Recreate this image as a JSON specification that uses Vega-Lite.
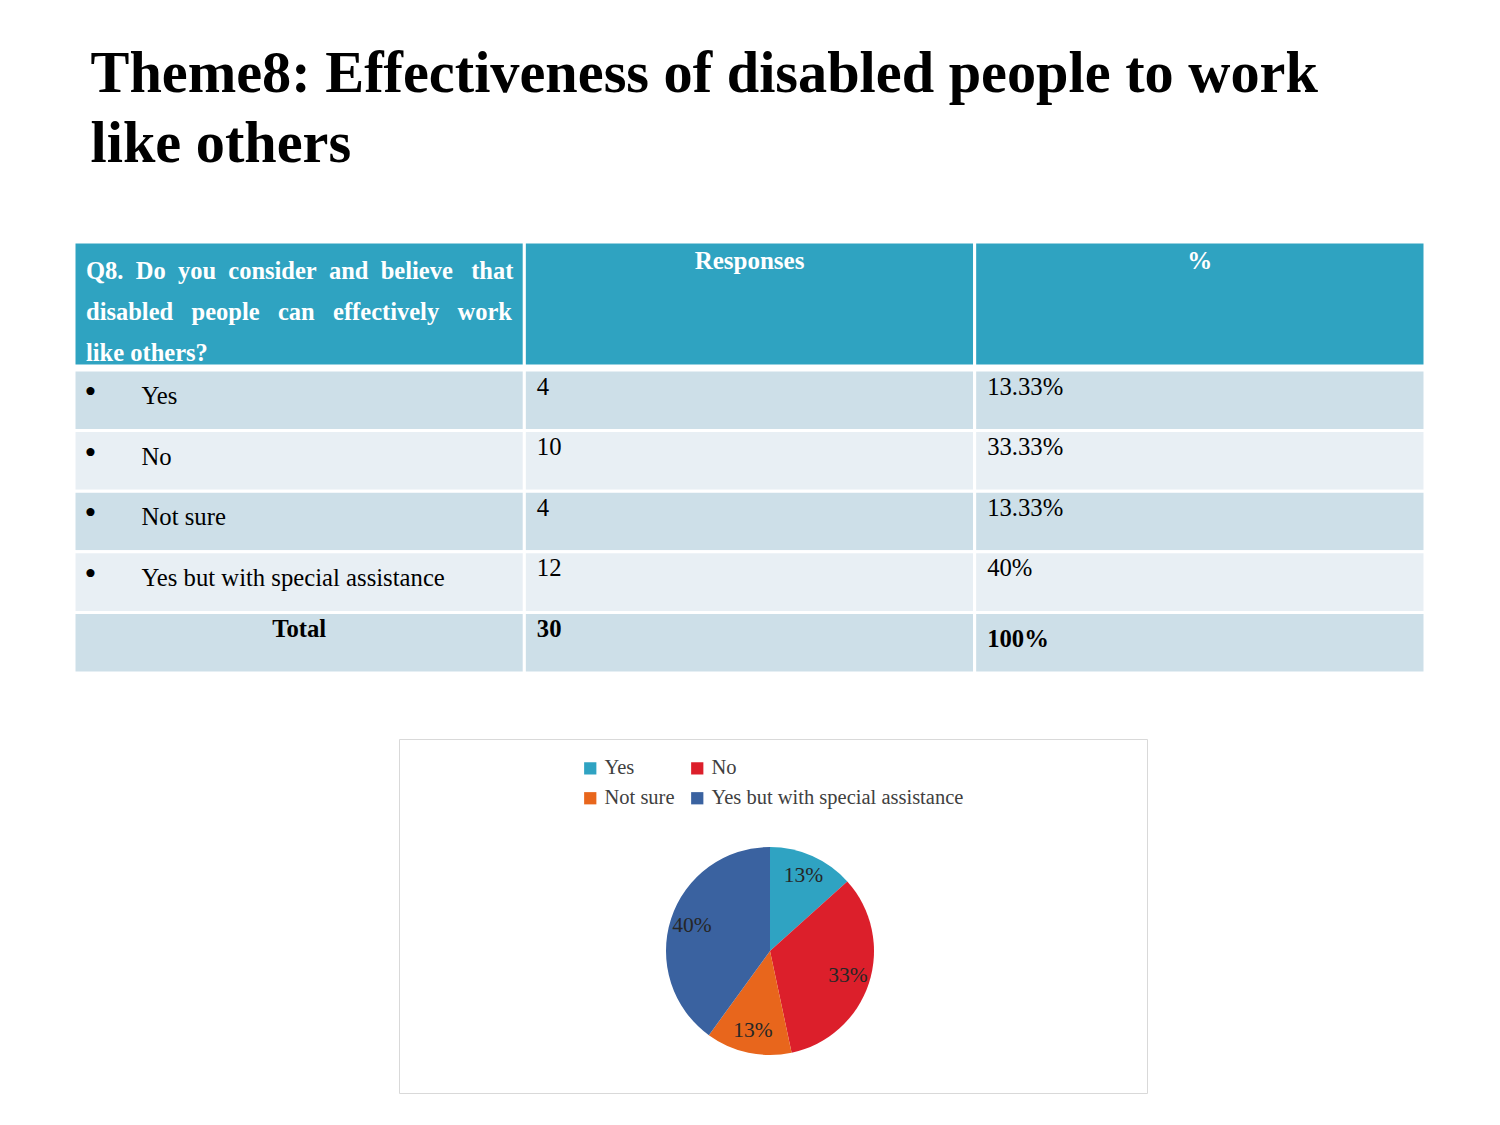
{
  "$schema": "https://vega.github.io/schema/vega-lite/v6.json",
  "background": "white",
  "padding": {"left": 72, "top": 45, "right": 5, "bottom": 5},
  "title": {
    "text": ["Theme8: Effectiveness of disabled people to work", "like others"],
    "anchor": "start",
    "font": "Liberation Serif",
    "fontSize": 58.3,
    "fontWeight": "bold",
    "color": "#000000",
    "lineHeight": 70,
    "dx": 18,
    "offset": 66
  },
  "config": {
    "view": {"stroke": null},
    "text": {"font": "Liberation Serif", "fontSize": 24.7, "color": "#000000"}
  },
  "resolve": {"scale": {"color": "independent"}},
  "datasets": {
    "header": [
      {"key": "item", "label": ["Q8.\u00a0\u00a0Do\u00a0\u00a0you\u00a0\u00a0consider\u00a0\u00a0and\u00a0\u00a0believe\u00a0\u00a0\u00a0that", "disabled\u00a0\u00a0\u00a0people\u00a0\u00a0\u00a0can\u00a0\u00a0\u00a0effectively\u00a0\u00a0\u00a0work", "like others?"]},
      {"key": "responses", "label": "Responses"},
      {"key": "percent", "label": "%"}
    ],
    "rows": [
      {"item": "Yes", "responses": 4, "percent": "13.33%"},
      {"item": "No", "responses": 10, "percent": "33.33%"},
      {"item": "Not sure", "responses": 4, "percent": "13.33%"},
      {"item": "Yes but with special assistance", "responses": 12, "percent": "40%"},
      {"item": "Total", "responses": 30, "percent": "100%"}
    ],
    "pie": [
      {"answer": "Yes", "count": 4, "label": "13%", "idx": 1},
      {"answer": "No", "count": 10, "label": "33%", "idx": 2},
      {"answer": "Not sure", "count": 4, "label": "13%", "idx": 3},
      {"answer": "Yes but with special assistance", "count": 12, "label": "40%", "idx": 4}
    ]
  },
  "spacing": 63,
  "vconcat": [
    {
      "spacing": 0,
      "vconcat": [
        {
          "width": 1351,
          "height": 124,
          "data": {"name": "header"},
          "encoding": {
            "x": {"field": "key", "type": "nominal", "scale": {"domain": ["item", "responses", "percent"], "paddingInner": 0, "paddingOuter": 0}, "axis": null}
          },
          "layer": [
            {"mark": {"type": "rect", "fill": "#2fa3c1", "stroke": "#ffffff", "strokeWidth": 3}, "encoding": {"y": {"value": 0}, "y2": {"value": 124}}},
            {
              "transform": [{"filter": "datum.key == 'item'"}],
              "mark": {"type": "text", "align": "left", "baseline": "alphabetic", "fontWeight": "bold", "color": "#ffffff", "lineHeight": 41, "dx": 12, "fontSize": 24.5},
              "encoding": {"x": {"field": "key", "type": "nominal", "bandPosition": 0}, "y": {"value": 37}, "text": {"field": "label"}}
            },
            {
              "transform": [{"filter": "datum.key != 'item'"}],
              "mark": {"type": "text", "align": "center", "baseline": "alphabetic", "fontWeight": "bold", "color": "#ffffff", "fontSize": 25},
              "encoding": {"y": {"value": 27}, "text": {"field": "label"}}
            }
          ]
        },
        {
          "width": 1351,
          "height": 303,
          "data": {"name": "rows"},
          "encoding": {
            "y": {"field": "item", "type": "nominal", "scale": {"domain": ["Yes", "No", "Not sure", "Yes but with special assistance", "Total"], "paddingInner": 0, "paddingOuter": 0}, "axis": null}
          },
          "layer": [
            {
              "transform": [{"fold": ["item", "responses", "percent"], "as": ["key", "value"]}],
              "mark": {"type": "rect", "stroke": "#ffffff", "strokeWidth": 3},
              "encoding": {
                "x": {"field": "key", "type": "nominal", "scale": {"domain": ["item", "responses", "percent"], "paddingInner": 0, "paddingOuter": 0}, "axis": null},
                "color": {"field": "item", "type": "nominal", "scale": {"domain": ["Yes", "No", "Not sure", "Yes but with special assistance", "Total"], "range": ["#cddfe8", "#e8eff4", "#cddfe8", "#e8eff4", "#cddfe8"]}, "legend": null}
              }
            },
            {
              "transform": [{"filter": "datum.item != 'Total'"}, {"fold": ["item"], "as": ["key", "value"]}],
              "mark": {"type": "text", "text": "\u2022", "fontSize": 34, "align": "center", "baseline": "alphabetic", "dx": 16.5, "dy": 33},
              "encoding": {"x": {"field": "key", "type": "nominal", "bandPosition": 0}, "y": {"field": "item", "type": "nominal", "bandPosition": 0}}
            },
            {
              "transform": [{"filter": "datum.item != 'Total'"}, {"fold": ["item"], "as": ["key", "value"]}],
              "mark": {"type": "text", "align": "left", "baseline": "alphabetic", "dx": 67.5, "dy": 34},
              "encoding": {"x": {"field": "key", "type": "nominal", "bandPosition": 0}, "y": {"field": "item", "type": "nominal", "bandPosition": 0}, "text": {"field": "value", "type": "nominal"}}
            },
            {
              "transform": [{"filter": "datum.item != 'Total'"}, {"fold": ["responses", "percent"], "as": ["key", "value"]}],
              "mark": {"type": "text", "align": "left", "baseline": "alphabetic", "dx": 12.5, "dy": 24.5},
              "encoding": {"x": {"field": "key", "type": "nominal", "bandPosition": 0}, "y": {"field": "item", "type": "nominal", "bandPosition": 0}, "text": {"field": "value", "type": "nominal"}}
            },
            {
              "transform": [{"filter": "datum.item == 'Total'"}, {"fold": ["item"], "as": ["key", "value"]}],
              "mark": {"type": "text", "align": "center", "baseline": "alphabetic", "fontWeight": "bold", "dy": 25},
              "encoding": {"x": {"field": "key", "type": "nominal"}, "y": {"field": "item", "type": "nominal", "bandPosition": 0}, "text": {"field": "value", "type": "nominal"}}
            },
            {
              "transform": [{"filter": "datum.item == 'Total'"}, {"fold": ["responses"], "as": ["key", "value"]}],
              "mark": {"type": "text", "align": "left", "baseline": "alphabetic", "fontWeight": "bold", "dx": 12.5, "dy": 25},
              "encoding": {"x": {"field": "key", "type": "nominal", "bandPosition": 0}, "y": {"field": "item", "type": "nominal", "bandPosition": 0}, "text": {"field": "value", "type": "nominal"}}
            },
            {
              "transform": [{"filter": "datum.item == 'Total'"}, {"fold": ["percent"], "as": ["key", "value"]}],
              "mark": {"type": "text", "align": "left", "baseline": "alphabetic", "fontWeight": "bold", "dx": 12.5, "dy": 35},
              "encoding": {"x": {"field": "key", "type": "nominal", "bandPosition": 0}, "y": {"field": "item", "type": "nominal", "bandPosition": 0}, "text": {"field": "value", "type": "nominal"}}
            }
          ]
        }
      ]
    },
    {
      "spacing": 20,
      "hconcat": [
        {
          "width": 303.5,
          "height": 354,
          "data": {"values": [{}]},
          "mark": {"type": "text", "text": ""},
          "encoding": {}
        },
        {
          "width": 748,
          "height": 354,
          "view": {"stroke": "#d9d9d9", "fill": "#ffffff"},
          "data": {"name": "pie"},
          "encoding": {
            "theta": {"field": "count", "type": "quantitative", "stack": true},
            "order": {"field": "idx", "type": "quantitative"},
            "color": {
              "field": "answer",
              "type": "nominal",
              "scale": {"domain": ["Yes", "No", "Not sure", "Yes but with special assistance"], "range": ["#2fa3c2", "#dc1f2b", "#e8661c", "#3a62a0"]},
              "legend": {
                "orient": "none",
                "legendX": 506,
                "legendY": 19,
                "direction": "horizontal",
                "columns": 2,
                "title": null,
                "symbolType": "square",
                "symbolSize": 150,
                "symbolStrokeWidth": 0,
                "labelFont": "Liberation Serif",
                "labelFontSize": 20.5,
                "labelColor": "#404040",
                "labelOffset": 4,
                "rowPadding": 9,
                "columnPadding": 12,
                "labelLimit": 400
              }
            }
          },
          "layer": [
            {"mark": {"type": "arc", "outerRadius": 104, "x": 371, "y": 212}},
            {
              "mark": {"type": "text", "radius": 82, "fontSize": 21.5, "align": "center", "baseline": "middle", "x": 371, "y": 212},
              "encoding": {"text": {"field": "label"}, "color": {"value": "#262626"}}
            }
          ]
        }
      ]
    }
  ]
}
